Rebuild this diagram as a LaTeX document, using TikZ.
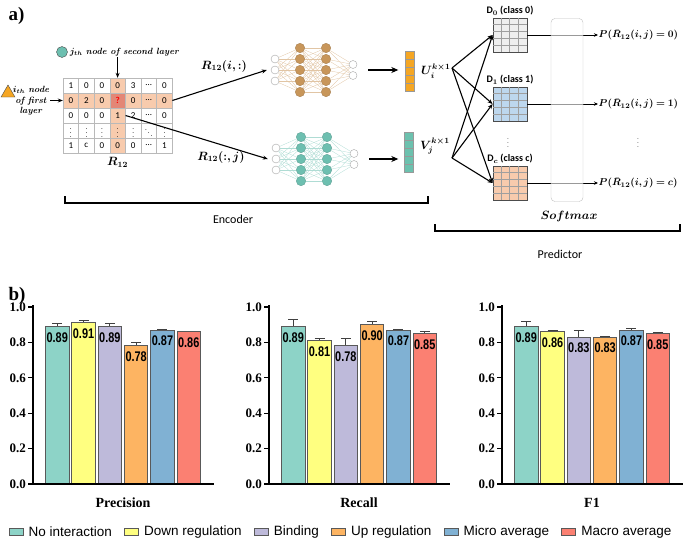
\documentclass[tikz,border=0pt]{standalone}
\usepackage{amsmath}
\usepackage{amssymb}
\usepackage{bm}
\usepackage{graphicx}
\usepackage{fontspec}
\usepackage{tikz}
\usetikzlibrary{positioning,arrows.meta,shapes.geometric}

\newfontfamily\calfont{Carlito}
\newfontfamily\arialfont{Liberation Sans}
\newfontfamily\timesfont{Liberation Serif}

\newcommand\valfont{\arialfont\bfseries\fontsize{14}{16}\selectfont}
\newcommand\ticfont{\timesfont\bfseries\fontsize{13}{15}\selectfont}
\newcommand\legfont{\arialfont\fontsize{13.5}{15}\selectfont}
\newcommand\vdt{{\fontsize{7}{8}\selectfont$\vdots$}}
\newcommand\ddt{{\fontsize{7}{8}\selectfont$\ddots$}}

\definecolor{cNone}{HTML}{8DD3C7}
\definecolor{cDown}{HTML}{FFFF80}
\definecolor{cBind}{HTML}{BEBADA}
\definecolor{cUp}{HTML}{FDB462}
\definecolor{cMicro}{HTML}{80B1D3}
\definecolor{cMacro}{HTML}{FB8072}
\definecolor{nnbrown}{HTML}{C8965A}
\definecolor{nnteal}{HTML}{6DBFB0}
\definecolor{rowhl}{HTML}{F8CBAD}
\definecolor{qcell}{HTML}{E38776}
\definecolor{vecorange}{HTML}{F5A623}
\definecolor{vecteal}{HTML}{6CC1AE}
\definecolor{dgray}{HTML}{EFEFEF}
\definecolor{dblue}{HTML}{BDD7EE}
\definecolor{dpeach}{HTML}{F8CBAD}

\tikzset{
  cell/.style={draw=gray!55, minimum width=15.6pt, minimum height=15pt, inner sep=0pt,
    font=\calfont\fontsize{9}{10}\selectfont},
  arr/.style={-{Stealth[length=5pt,width=4pt]}, line width=1.1pt},
  thinarr/.style={-{Stealth[length=4pt,width=3.5pt]}, line width=0.9pt},
  bigarr/.style={-{Stealth[length=7pt,width=6pt]}, line width=1.6pt},
  nnin/.style={circle, draw=gray!70, fill=white, minimum size=8pt, inner sep=0pt},
  nnhid/.style={circle, fill=#1, draw=#1!80!black, line width=0.3pt, minimum size=9.5pt, inner sep=0pt},
  nnedge/.style={draw=#1!55, line width=0.3pt},
  vecbox/.style={draw=gray!80, minimum width=9pt, minimum height=40pt, inner sep=0pt},
  dmat/.style={draw=black!70, line width=0.8pt, minimum width=34pt, minimum height=34pt, inner sep=0pt},
  dlab/.style={font=\calfont\bfseries\fontsize{10}{11}\selectfont, inner sep=1pt},
  softbox/.style={draw=gray!50, fill=white, fill opacity=0.6, rounded corners=4pt,
    minimum width=32pt, minimum height=183pt},
  plab/.style={anchor=west, font=\fontsize{10}{12}\selectfont, inner sep=0.5pt},
  mlab/.style={font=\fontsize{11.5}{13}\selectfont},
  bracket/.style={line width=1.6pt},
  legbox/.style={draw=black!65, line width=0.8pt, minimum width=14pt, minimum height=7pt, inner sep=0pt},
  legtxt/.style={font=\legfont, inner sep=0pt},
}

% neural net: name, centre x, centre y, colour
\newcommand\drawnet[4]{%
  \foreach \k in {1,2,3}
    \node[nnin] (#1-a\k) at (#2-38, {#3+11*(\k-2)}) {};
  \foreach \k in {1,...,5} {
    \node[nnhid=#4] (#1-b\k) at (#2-13, {#3+11*(\k-3)}) {};
    \node[nnhid=#4] (#1-c\k) at (#2+13, {#3+11*(\k-3)}) {};
  }
  \foreach \k in {1,2}
    \node[nnin] (#1-d\k) at (#2+40, {#3+11*(\k-1.5)}) {};
  \foreach \p in {1,2,3} \foreach \q in {1,...,5}
    \draw[nnedge=#4] (#1-a\p) -- (#1-b\q);
  \foreach \p in {1,...,5} \foreach \q in {1,...,5}
    \draw[nnedge=#4] (#1-b\p) -- (#1-c\q);
  \foreach \p in {1,...,5} \foreach \q in {1,2}
    \draw[nnedge=#4] (#1-c\p) -- (#1-d\q);
  \coordinate (#1-out) at (#2+55,#3);
}

% bar chart: axis x, title, value/error/colour list
\newcommand\barchart[3]{%
  \foreach \t in {0.0,0.2,0.4,0.6,0.8,1.0} {
    \draw[line width=1.2pt] (#1-5,{484-177*\t}) -- (#1,{484-177*\t});
    \node[anchor=east, font=\ticfont, inner sep=1pt] at (#1-6,{484-177*\t}) {\t};
  }
  \foreach \v/\e/\c [count=\n] in {#3} {
    \pgfmathsetmacro\barx{#1+12.5+26.3*(\n-1)}
    \pgfmathsetmacro\bary{484-177*\v}
    \draw[line width=0.8pt, black!75] ({\barx+11.75},\bary) -- ({\barx+11.75},{\bary-177*\e})
      ++(-5,0) -- ++(10,0);
    \draw[draw=black!65, line width=0.9pt, fill=\c] (\barx,484) rectangle ({\barx+23.5},\bary);
    \node[font=\valfont, inner sep=0pt] at ({\barx+11.75},{\bary+11}) {\scalebox{0.78}[1]{\v}};
  }
  \draw[line width=1.4pt] (#1,305) -- (#1,484) -- (#1+181,484);
  \node[font=\timesfont\bfseries\fontsize{14}{16}\selectfont] at (#1+90,503) {#2};
}

\begin{document}
\begin{tikzpicture}[x=1pt, y=-1pt]
  \useasboundingbox (0,0) rectangle (685,541);

  \node[font=\timesfont\bfseries\fontsize{19}{20}\selectfont, anchor=west] (alab) at (5,16) {a)};
  \node[font=\timesfont\bfseries\fontsize{19}{20}\selectfont, anchor=west] (blab) at (5,296) {b)};

  % interaction matrix
  \fill[rowhl] (109.8,78) rectangle (125.4,153);
  \fill[rowhl] (63,93) rectangle (172.2,108);
  \fill[qcell] (109.8,93) rectangle (125.4,108);
  \foreach \rowvals [count=\r] in {{1,0,0,0,3,\dots,0},
      {0,2,0,\textcolor{red}{\textbf{?}},0,\dots,0},
      {0,0,0,1,2,\dots,0},
      {\vdt,\vdt,\vdt,\vdt,\vdt,\ddt,\vdt},
      {1,c,0,0,0,\dots,1}}
    \foreach \v [count=\c] in \rowvals
      \node[cell] (m-\r-\c) at ({63+15.6*(\c-0.5)},{78+15*(\r-0.5)}) {\v};
  \node[mlab, below=1pt of m-5-4] (rlab) {$\bm{R_{12}}$};

  \node[circle, draw=black!70, fill=nnteal, minimum size=11pt, inner sep=0pt] (jdot) at (62,52) {};
  \node[right=1pt of jdot, font=\fontsize{9}{10}\selectfont, inner sep=1pt] (jlab)
    {$\bm{j_{th}}$ \textbf{\textit{node of second layer}}};
  \draw[arr] (jlab.south -| m-1-4) -- (m-1-4.north);

  \node[regular polygon, regular polygon sides=3, draw=black!70, fill=vecorange,
    minimum size=16pt, inner sep=0pt] (itri) at (8,93) {};
  \node[align=center, font=\fontsize{9}{10.5}\selectfont, inner sep=1pt] (ilab) at (31,101)
    {$\bm{i_{th}}$ \textbf{\textit{node}}\\ \textbf{\textit{of first}}\\ \textbf{\textit{layer}}};
  \draw[arr] (ilab.east |- m-2-1) -- (m-2-1.west);

  % encoders
  \drawnet{tnet}{313}{70}{nnbrown}
  \drawnet{bnet}{314}{159}{nnteal}

  \draw[arr] (m-2-7.east) -- ([xshift=-4pt]tnet-a2.west);
  \draw[arr] (m-3-4.east) -- ([xshift=-4pt]bnet-a2.west);
  \node[mlab] (rrow) at (224,66) {$\bm{R_{12}(i,:)}$};
  \node[mlab] (rcol) at (221,157) {$\bm{R_{12}(:,j)}$};

  \node[vecbox, fill=vecorange] (uvec) at (410,71) {};
  \node[vecbox, fill=vecteal] (vvec) at (409,152) {};
  \foreach \k in {1,...,4} {
    \draw[gray!80] (uvec.north west) ++(0,8*\k) -- ++(9,0);
    \draw[gray!80] (vvec.north west) ++(0,8*\k) -- ++(9,0);
  }
  \draw[bigarr] (tnet-out) -- ([xshift=-7pt]uvec.west |- tnet-out);
  \draw[bigarr] (bnet-out) -- ([xshift=-6pt]vvec.west |- bnet-out);
  \node[mlab, right=3pt of uvec] (ulab) {$\bm{U_i^{k\times 1}}$};
  \node[mlab, right=3pt of vvec, yshift=6pt] (vlab) {$\bm{V_j^{k\times 1}}$};

  % predictor
  \node[dmat, fill=dgray] (d0) at (510,35) {};
  \node[dmat, fill=dblue] (d1) at (510,104) {};
  \node[dmat, fill=dpeach] (dc) at (510,183) {};
  \foreach \d in {d0,d1,dc} {
    \foreach \k in {1,2,3} \draw[gray!75] (\d.north west) ++(8.5*\k,0) -- ++(0,34);
    \foreach \k in {1,...,4} \draw[gray!75] (\d.north west) ++(0,6.8*\k) -- ++(34,0);
  }
  \node[dlab, above=1pt of d0] (d0lab) {D$_{\bm 0}$ (class 0)};
  \node[dlab, above=1pt of d1] (d1lab) {D$_{\bm 1}$ (class 1)};
  \node[dlab, above=1pt of dc] (dclab) {D$_{\bm c}$ (class c)};
  \node[font=\fontsize{8}{9}\selectfont] (ddots) at (508,140) {$\vdots$};

  \coordinate (uout) at (452,68);
  \coordinate (vout) at (452,158);
  \foreach \from in {uout,vout}
    \foreach \to in {d0,d1,dc}
      \draw[arr] (\from) -- (\to.west);

  \node[plab] (p0) at (598,35) {$\bm{P(\bar{R}_{12}(i,j)=0)}$};
  \node[plab] (p1) at (598,104) {$\bm{P(\bar{R}_{12}(i,j)=1)}$};
  \node[plab] (pc) at (598,183) {$\bm{P(\bar{R}_{12}(i,j)=c)}$};
  \node[font=\fontsize{8}{9}\selectfont] (pdots) at (638,140) {$\vdots$};
  \foreach \from/\to in {d0/p0,d1/p1,dc/pc}
    \draw[thinarr] (\from.east) -- (\to.west);
  \node[softbox] (soft) at (567,110) {};
  \node[mlab] (softlab) at (569,216) {$\bm{Softmax}$};

  % brackets
  \draw[bracket] (65,196) -- (65,203) -- (428,203) -- (428,196);
  \node[font=\calfont\fontsize{12}{14}\selectfont] (enclab) at (233,219) {Encoder};
  \draw[bracket] (435,224) -- (435,231) -- (680,231) -- (680,224);
  \node[font=\calfont\fontsize{12}{14}\selectfont] (predlab) at (560,254) {Predictor};

  % metrics
  \barchart{33}{Precision}{0.89/0.02/cNone, 0.91/0.015/cDown, 0.89/0.02/cBind,
    0.78/0.02/cUp, 0.87/0.005/cMicro, 0.86/0.004/cMacro}
  \barchart{269}{Recall}{0.89/0.04/cNone, 0.81/0.01/cDown, 0.78/0.045/cBind,
    0.90/0.02/cUp, 0.87/0.005/cMicro, 0.85/0.01/cMacro}
  \barchart{502}{F1}{0.89/0.03/cNone, 0.86/0.008/cDown, 0.83/0.035/cBind,
    0.83/0.004/cUp, 0.87/0.008/cMicro, 0.85/0.005/cMacro}

  % legend
  \node[legbox, fill=cNone] (lg1) at (16,532) {};
  \node[legtxt, right=5pt of lg1] (lt1) {No interaction};
  \node[legbox, fill=cDown, right=12pt of lt1] (lg2) {};
  \node[legtxt, right=5pt of lg2] (lt2) {Down regulation};
  \node[legbox, fill=cBind, right=12pt of lt2] (lg3) {};
  \node[legtxt, right=5pt of lg3] (lt3) {Binding};
  \node[legbox, fill=cUp, right=12pt of lt3] (lg4) {};
  \node[legtxt, right=5pt of lg4] (lt4) {Up regulation};
  \node[legbox, fill=cMicro, right=12pt of lt4] (lg5) {};
  \node[legtxt, right=5pt of lg5] (lt5) {Micro average};
  \node[legbox, fill=cMacro, right=12pt of lt5] (lg6) {};
  \node[legtxt, right=5pt of lg6] (lt6) {Macro average};
\end{tikzpicture}
\end{document}
